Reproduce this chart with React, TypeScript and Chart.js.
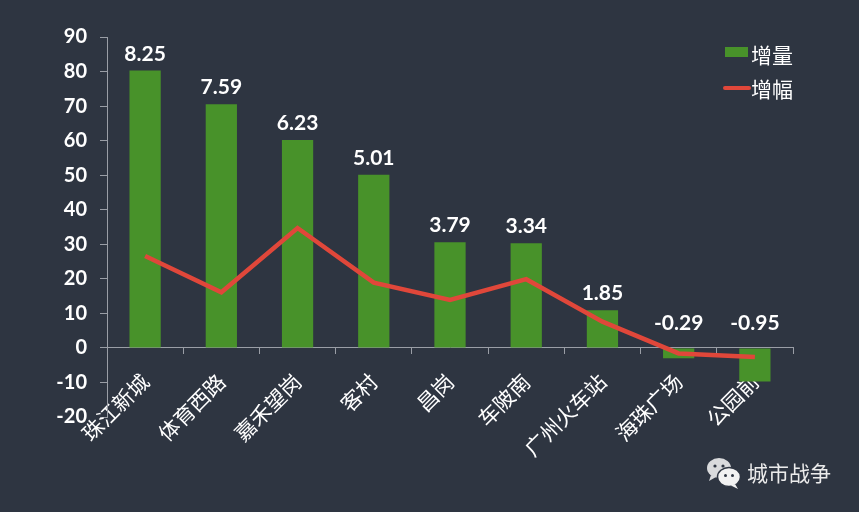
import { useEffect, useRef } from 'react'
import { Chart, registerables, type Plugin } from 'chart.js'

Chart.register(...registerables)

// ─── Data ────────────────────────────────────────────────────────────────────

const STATIONS = ['珠江新城', '体育西路', '嘉禾望岗', '客村', '昌岗', '车陂南', '广州火车站', '海珠广场', '公园前']
const INCREASE = [80.3, 70.5, 60.2, 50.1, 30.6, 30.3, 10.9, -3.0, -9.7]     // 增量
const GROWTH = [26.6, 16.1, 34.7, 18.9, 13.9, 19.9, 7.6, -1.6, -2.6]        // 增幅
const BAR_LABELS = ['8.25', '7.59', '6.23', '5.01', '3.79', '3.34', '1.85', '-0.29', '-0.95']
const Y_MIN = -20
const Y_MAX = 90
const Y_STEP = 10

// ─── Colours ─────────────────────────────────────────────────────────────────

const BG = '#2e3541'
const GREEN = '#48922a'
const RED = '#e0473a'
const AXIS = '#9a9ea6'

// Value labels above each bar (or above the zero line for negatives)
const barValueLabels: Plugin<'bar'> = {
  id: 'barValueLabels',
  afterDatasetsDraw(chart) {
    const meta = chart.getDatasetMeta(1) // the bar dataset
    const ctx = chart.ctx
    ctx.save()
    ctx.fillStyle = '#ffffff'
    ctx.font = 'bold 21px Lato, "DejaVu Sans", sans-serif'
    ctx.textAlign = 'center'
    ctx.textBaseline = 'alphabetic'
    meta.data.forEach((el, i) => {
      const bar = el as unknown as { x: number; y: number; base: number }
      const top = Math.min(bar.y, bar.base)
      const gap = INCREASE[i] < 0 ? 18 : 10
      ctx.fillText(BAR_LABELS[i], bar.x, top - gap)
    })
    ctx.restore()
  },
}

export default function App() {
  const canvasRef = useRef<HTMLCanvasElement>(null)

  useEffect(() => {
    const canvas = canvasRef.current
    if (!canvas) return
    const chart = new Chart(canvas, {
      type: 'bar',
      data: {
        labels: STATIONS,
        datasets: [
          {
            type: 'line',
            label: '增幅',
            data: GROWTH,
            borderColor: RED,
            borderWidth: 4.5,
            pointRadius: 0,
            tension: 0,
            order: 0,
          } as any,
          {
            type: 'bar',
            label: '增量',
            data: INCREASE,
            backgroundColor: GREEN,
            barPercentage: 0.41,
            categoryPercentage: 1,
            order: 1,
          },
        ],
      },
      options: {
        animation: false,
        responsive: false,
        maintainAspectRatio: false,
        layout: { padding: { top: 37, right: 66, bottom: 95, left: 0 } },
        plugins: {
          legend: { display: false },
          tooltip: { enabled: false },
        },
        scales: {
          x: {
            position: { y: 0 } as any,
            grid: {
              display: true,
              drawOnChartArea: false,
              offset: true,
              tickLength: 6,
              color: AXIS,
            },
            border: { display: true, color: AXIS, width: 1 },
            ticks: {
              color: '#ffffff',
              font: { family: '"Noto Sans CJK SC", sans-serif', size: 21 },
              minRotation: 45,
              maxRotation: 45,
              padding: 15,
              autoSkip: false,
            },
          },
          y: {
            min: Y_MIN,
            max: Y_MAX,
            afterFit(scale) {
              scale.width = 107
            },
            grid: {
              display: true,
              drawOnChartArea: false,
              tickLength: 7,
              color: AXIS,
            },
            border: { display: true, color: AXIS, width: 1 },
            ticks: {
              stepSize: Y_STEP,
              color: '#ffffff',
              font: { family: 'Lato, "DejaVu Sans", sans-serif', size: 20, weight: 'bold' },
              padding: 13,
            },
          },
        },
      },
      plugins: [barValueLabels as any],
    })
    return () => chart.destroy()
  }, [])

  return (
    <div style={{ position: 'fixed', left: 0, top: 0, width: 859, height: 512, background: BG, overflow: 'hidden' }}>
      <canvas ref={canvasRef} width={859} height={512} style={{ display: 'block', width: 859, height: 512 }} />

      {/* ── Legend ─────────────────────────────────────────────── */}
      <div style={{ position: 'absolute', left: 725, top: 47, width: 23, height: 10, background: GREEN }} />
      <div style={{ position: 'absolute', left: 751, top: 40, color: '#fff', font: '21px "Noto Sans CJK SC", sans-serif', lineHeight: '28px' }}>增量</div>
      <div style={{ position: 'absolute', left: 723, top: 86, width: 28, height: 4, borderRadius: 2, background: RED }} />
      <div style={{ position: 'absolute', left: 751, top: 74, color: '#fff', font: '21px "Noto Sans CJK SC", sans-serif', lineHeight: '28px' }}>增幅</div>

      {/* ── Watermark ──────────────────────────────────────────── */}
      <svg style={{ position: 'absolute', left: 706, top: 456 }} width={36} height={34} viewBox="0 0 36 34">
        <ellipse cx="13" cy="12" rx="12" ry="10" fill="#d9dadc" />
        <path d="M5 19 L3 25 L10 21 Z" fill="#d9dadc" />
        <circle cx="9" cy="10" r="1.6" fill="#2e3541" />
        <circle cx="17" cy="10" r="1.6" fill="#2e3541" />
        <ellipse cx="23" cy="21" rx="11.5" ry="9.5" fill="#f2f2f2" stroke="#2e3541" strokeWidth="1.5" />
        <path d="M29 28 L32 33 L25 29.5 Z" fill="#f2f2f2" />
        <circle cx="19.5" cy="19.5" r="1.5" fill="#2e3541" />
        <circle cx="26.5" cy="19.5" r="1.5" fill="#2e3541" />
      </svg>
      <div style={{ position: 'absolute', left: 747, top: 457, color: '#ebebeb', font: '21px "Noto Sans CJK SC", sans-serif', lineHeight: '30px' }}>城市战争</div>
    </div>
  )
}
